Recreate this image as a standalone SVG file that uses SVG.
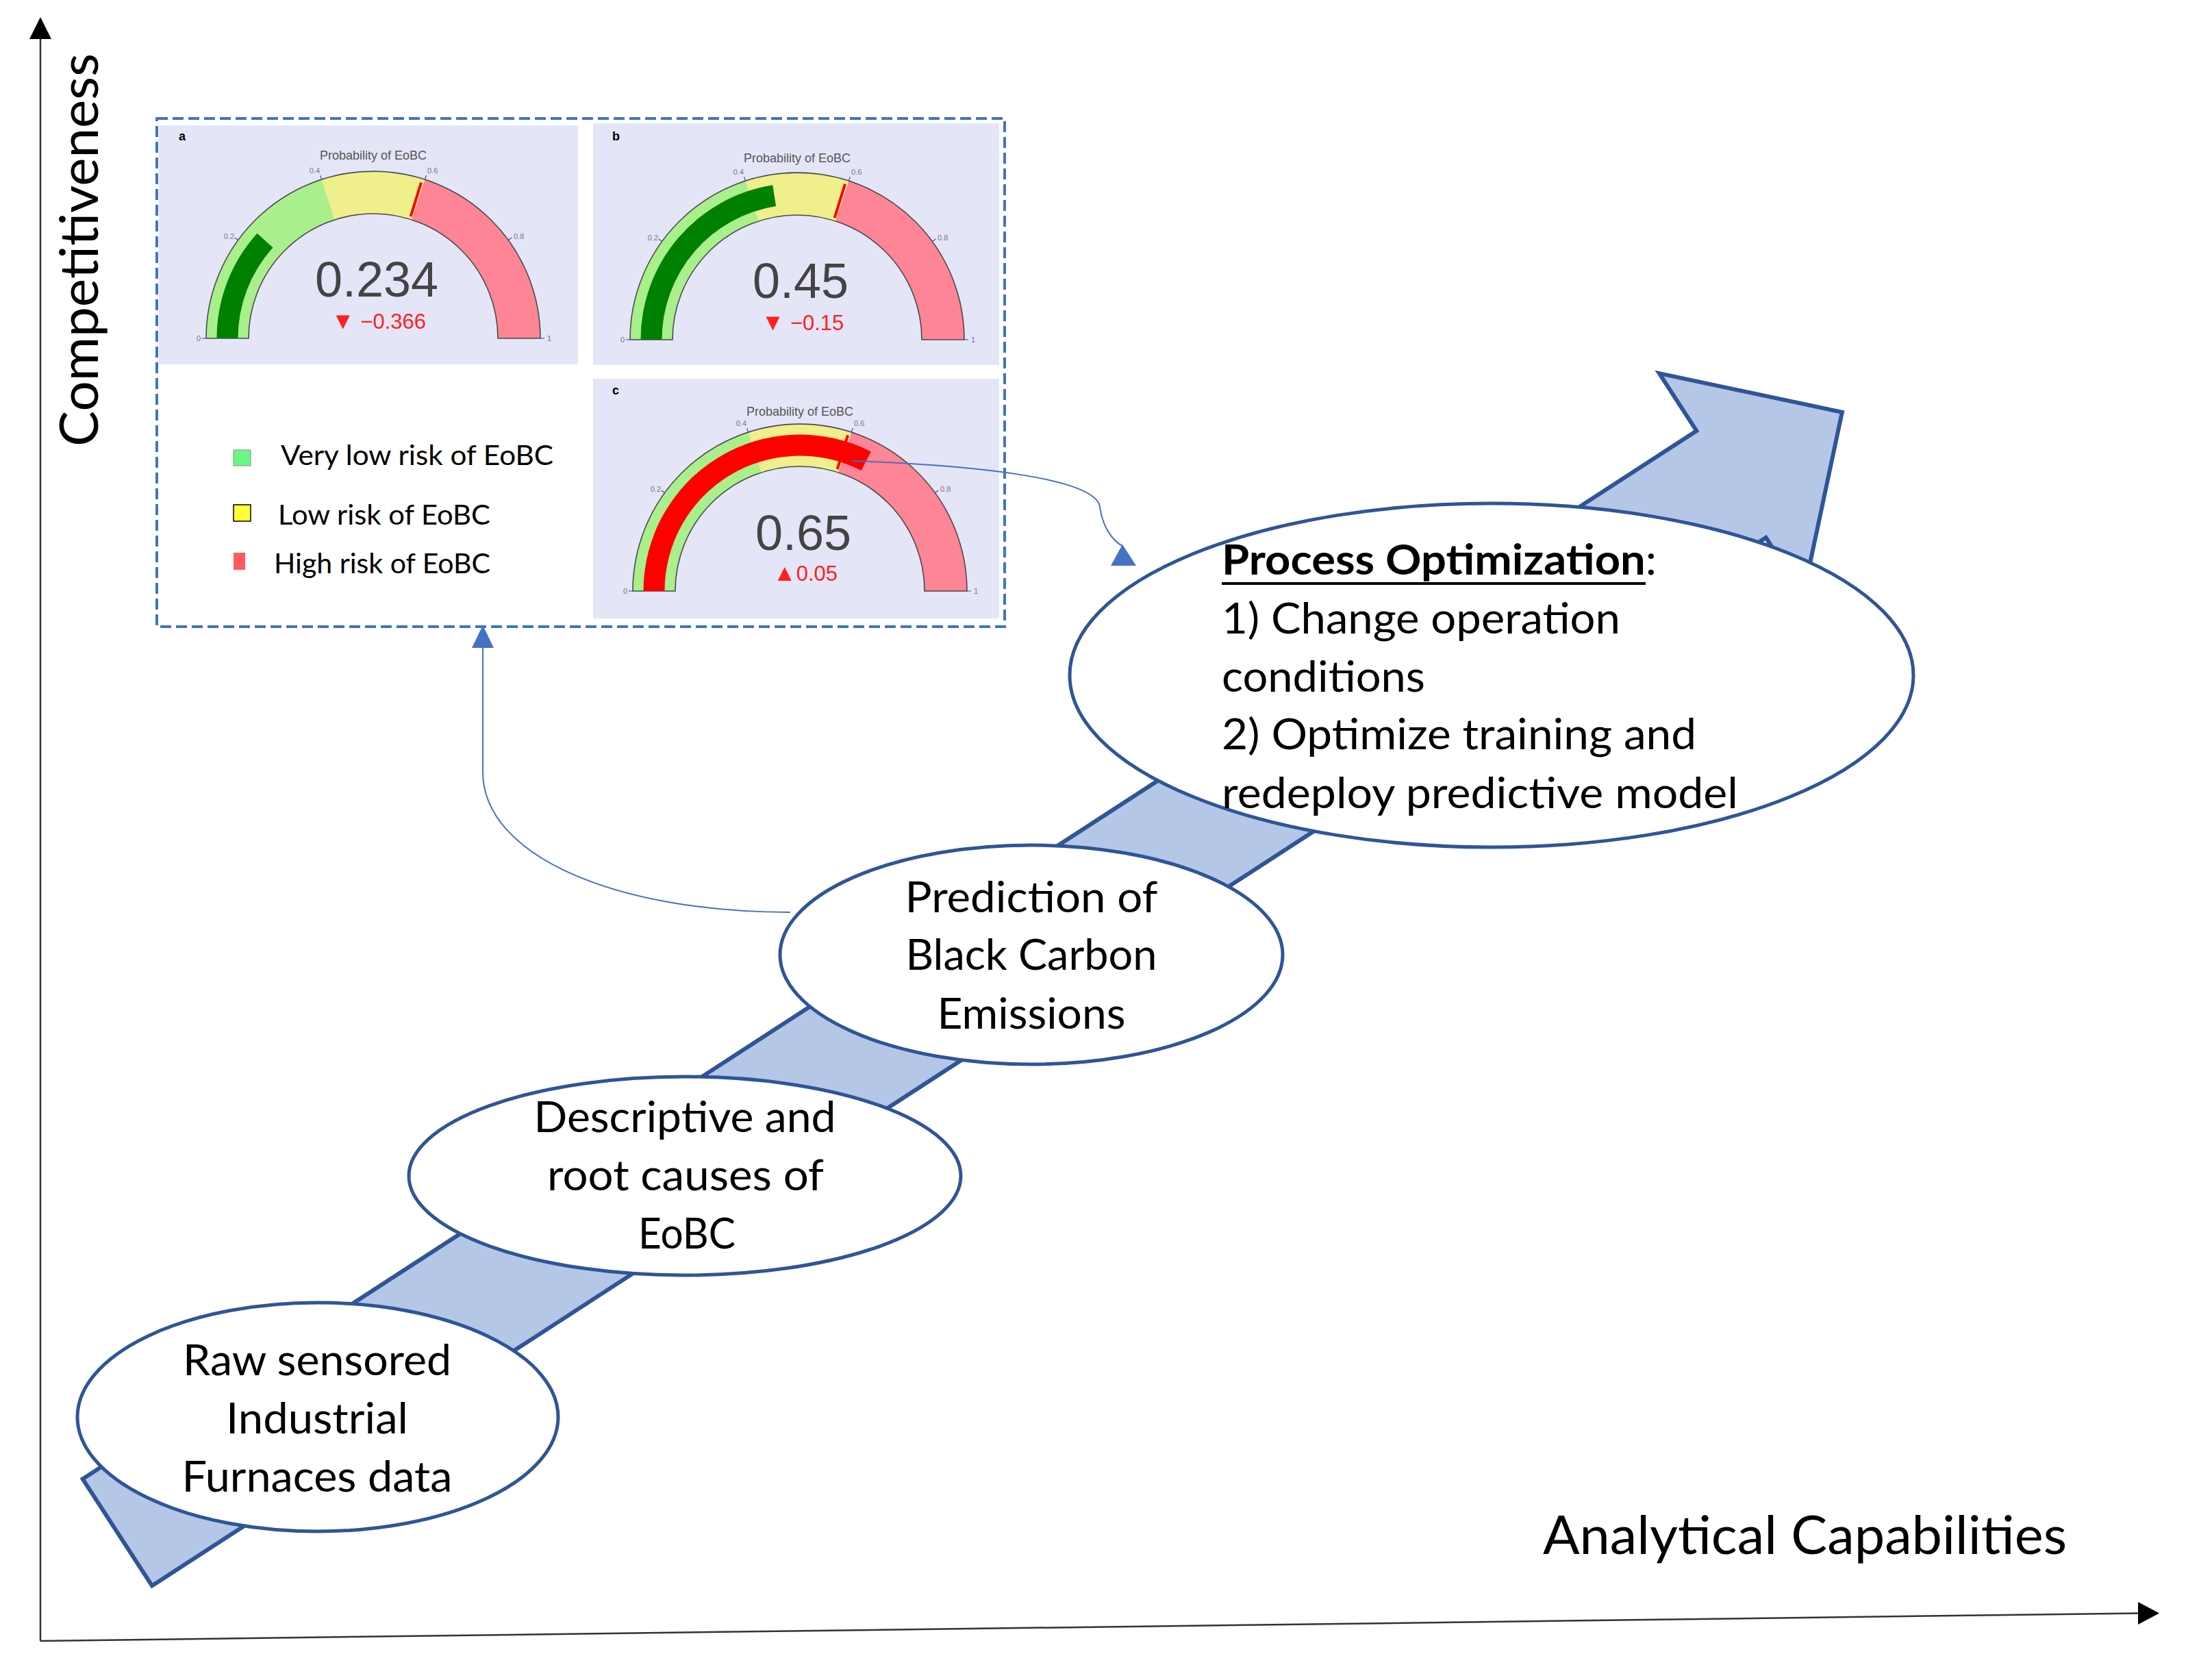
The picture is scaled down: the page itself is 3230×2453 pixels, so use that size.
<svg xmlns="http://www.w3.org/2000/svg" width="3230" height="2453" viewBox="0 0 3230 2453">
<style>
.node-ellipse{fill:#FFFFFF;stroke:#2F5597;stroke-width:5}
.node-text{font-family:Lato,"Liberation Sans",sans-serif;font-size:61px;fill:#000000}
.axis-line{stroke:#333333;stroke-width:2.5;fill:none}
.axis-head{fill:#000000}
.axis-text{font-family:Lato,"Liberation Sans",sans-serif;font-size:77px;fill:#000000}
.conn{fill:none;stroke:#4472C4;stroke-width:2}
.conn-head{fill:#4472C4}
.panel{fill:#E5E5F8}
.g-green{fill:#A9EF8C}
.g-yellow{fill:#EFEF8B}
.g-pink{fill:#FD8595}
.g-outline{fill:none;stroke:#4A4A4A;stroke-width:1.6}
.g-tick{fill:none;stroke:#4444AA;stroke-width:1.2}
.g-ticklabel{font-family:"Liberation Sans",Arial,sans-serif;font-size:11px;fill:#777777}
.g-title{font-family:"Liberation Sans",Arial,sans-serif;font-size:18px;fill:#555555;text-anchor:middle}
.g-value{font-family:"Liberation Sans",Arial,sans-serif;font-size:72px;fill:#444444;text-anchor:middle}
.g-delta{font-family:"Liberation Sans",Arial,sans-serif;font-size:31px;fill:#FF2020;text-anchor:middle}
.g-tri{font-size:34px}
.g-thresh{stroke:#FF0000;stroke-width:4}
.g-label{font-family:"Liberation Sans",Arial,sans-serif;font-size:18px;font-weight:bold;fill:#000000}
.legend-text{font-family:Lato,"Liberation Sans",sans-serif;font-size:41px;fill:#000000}
</style>
<rect x="0" y="0" width="3230" height="2453" fill="#FFFFFF"/>

<!-- axes -->
<g id="axes">
  <line class="axis-line" x1="59" y1="2396" x2="59" y2="54"/>
  <polygon class="axis-head" points="43,57 59,25 75,57"/>
  <line class="axis-line" x1="59" y1="2396" x2="3125" y2="2355.5"/>
  <polygon class="axis-head" points="3122,2339 3153,2355.5 3122,2372"/>
  <text class="axis-text" transform="translate(143,652) rotate(-90)" x="0" y="0" textLength="574" lengthAdjust="spacingAndGlyphs">Competitiveness</text>
  <text class="axis-text" x="2253" y="2269" textLength="765" lengthAdjust="spacingAndGlyphs">Analytical Capabilities</text>
</g>

<!-- big progression arrow -->
<g id="progress-arrow">
  <polygon transform="translate(2528,707) rotate(-33)" points="-2810,-93 0,-93 0,-193 193,0 0,193 0,93 -2810,93" fill="#B4C7E7" stroke="#2F5597" stroke-width="6" stroke-linejoin="miter"/>
</g>

<!-- nodes -->
<g id="node-raw-data">
  <ellipse class="node-ellipse" cx="464" cy="2069" rx="351" ry="167"/>
  <text class="node-text" x="463" y="2008" text-anchor="middle" textLength="392" lengthAdjust="spacingAndGlyphs">Raw sensored</text>
  <text class="node-text" x="463" y="2093" text-anchor="middle" textLength="266" lengthAdjust="spacingAndGlyphs">Industrial</text>
  <text class="node-text" x="463" y="2178" text-anchor="middle" textLength="395" lengthAdjust="spacingAndGlyphs">Furnaces data</text>
</g>

<g id="node-descriptive">
  <ellipse class="node-ellipse" cx="1000" cy="1717" rx="403" ry="145"/>
  <text class="node-text" x="1000" y="1653" text-anchor="middle" textLength="441" lengthAdjust="spacingAndGlyphs">Descriptive and</text>
  <text class="node-text" x="1001" y="1738" text-anchor="middle" textLength="404" lengthAdjust="spacingAndGlyphs">root causes of</text>
  <text class="node-text" x="1003" y="1823" text-anchor="middle" textLength="142" lengthAdjust="spacingAndGlyphs">EoBC</text>
</g>

<g id="node-prediction">
  <ellipse class="node-ellipse" cx="1506" cy="1394" rx="367" ry="160"/>
  <text class="node-text" x="1506" y="1332" text-anchor="middle" textLength="369" lengthAdjust="spacingAndGlyphs">Prediction of</text>
  <text class="node-text" x="1506" y="1416" text-anchor="middle" textLength="367" lengthAdjust="spacingAndGlyphs">Black Carbon</text>
  <text class="node-text" x="1506" y="1502" text-anchor="middle" textLength="275" lengthAdjust="spacingAndGlyphs">Emissions</text>
</g>

<g id="node-optimization">
  <ellipse class="node-ellipse" cx="2178" cy="986" rx="616" ry="251"/>
  <text class="node-text" x="1784" y="839" textLength="635" lengthAdjust="spacingAndGlyphs"><tspan font-weight="bold">Process Optimization</tspan>:</text>
  <line x1="1784" y1="852" x2="2403" y2="852" stroke="#000000" stroke-width="4"/>
  <text class="node-text" x="1784" y="925" textLength="582" lengthAdjust="spacingAndGlyphs">1) Change operation</text>
  <text class="node-text" x="1784" y="1010" textLength="297" lengthAdjust="spacingAndGlyphs">conditions</text>
  <text class="node-text" x="1784" y="1094" textLength="693" lengthAdjust="spacingAndGlyphs">2) Optimize training and</text>
  <text class="node-text" x="1784" y="1180" textLength="754" lengthAdjust="spacingAndGlyphs">redeploy predictive model</text>
</g>

<!-- gauge dashboard panel -->
<g id="gauge-panel">
  <rect x="229" y="173" width="1238" height="742" fill="#FFFFFF"/>
  <rect class="panel" x="232" y="183" width="612" height="349"/>
  <rect class="panel" x="866" y="180" width="593" height="353"/>
  <rect class="panel" x="866" y="553" width="593" height="350"/>

  <g id="gauge-a" transform="translate(545,494)">
    <path class="g-green" d="M-244,0 A244,244 0 0 1 -75.40,-232.06 L-56.24,-173.09 A182,182 0 0 0 -182,0 Z"/>
    <path class="g-yellow" d="M-75.40,-232.06 A244,244 0 0 1 75.40,-232.06 L56.24,-173.09 A182,182 0 0 0 -56.24,-173.09 Z"/>
    <path class="g-pink" d="M75.40,-232.06 A244,244 0 0 1 244,0 L182,0 A182,182 0 0 0 56.24,-173.09 Z"/>
    <path class="g-outline" d="M-244,0 A244,244 0 0 1 244,0 L182,0 A182,182 0 0 0 -182,0 Z"/>
    <path fill="#008000" d="M-228.5,0 A228.5,228.5 0 0 1 -169.48,-153.25 L-146.49,-132.46 A197.5,197.5 0 0 0 -197.5,0 Z"/>
    <line class="g-thresh" x1="54.7" y1="-177.8" x2="70.0" y2="-227.5"/>
    <path class="g-tick" d="M-244,0h-6M-197.4,-143.4l-4.9,-3.5M-75.4,-232.1l-1.9,-5.7M75.4,-232.1l1.9,-5.7M197.4,-143.4l4.9,-3.5M244,0h6"/>
    <text class="g-ticklabel" x="-252" y="4" text-anchor="end">0</text>
    <text class="g-ticklabel" x="-203" y="-145" text-anchor="end">0.2</text>
    <text class="g-ticklabel" x="-78" y="-241" text-anchor="end">0.4</text>
    <text class="g-ticklabel" x="79" y="-241">0.6</text>
    <text class="g-ticklabel" x="205" y="-145">0.8</text>
    <text class="g-ticklabel" x="254" y="4">1</text>
    <text class="g-title" x="0" y="-261">Probability of EoBC</text>
    <text class="g-value" x="5" y="-61">0.234</text>
    <text class="g-delta" x="8" y="-14"><tspan class="g-tri">▼</tspan> −0.366</text>
  </g>
  <text class="g-label" x="261" y="205">a</text>

  <g id="gauge-b" transform="translate(1164,496)">
    <path class="g-green" d="M-244,0 A244,244 0 0 1 -75.40,-232.06 L-56.24,-173.09 A182,182 0 0 0 -182,0 Z"/>
    <path class="g-yellow" d="M-75.40,-232.06 A244,244 0 0 1 75.40,-232.06 L56.24,-173.09 A182,182 0 0 0 -56.24,-173.09 Z"/>
    <path class="g-pink" d="M75.40,-232.06 A244,244 0 0 1 244,0 L182,0 A182,182 0 0 0 56.24,-173.09 Z"/>
    <path class="g-outline" d="M-244,0 A244,244 0 0 1 244,0 L182,0 A182,182 0 0 0 -182,0 Z"/>
    <path fill="#008000" d="M-228.5,0 A228.5,228.5 0 0 1 -35.74,-225.69 L-30.90,-195.07 A197.5,197.5 0 0 0 -197.5,0 Z"/>
    <line class="g-thresh" x1="54.7" y1="-177.8" x2="70.0" y2="-227.5"/>
    <path class="g-tick" d="M-244,0h-6M-197.4,-143.4l-4.9,-3.5M-75.4,-232.1l-1.9,-5.7M75.4,-232.1l1.9,-5.7M197.4,-143.4l4.9,-3.5M244,0h6"/>
    <text class="g-ticklabel" x="-252" y="4" text-anchor="end">0</text>
    <text class="g-ticklabel" x="-203" y="-145" text-anchor="end">0.2</text>
    <text class="g-ticklabel" x="-78" y="-241" text-anchor="end">0.4</text>
    <text class="g-ticklabel" x="79" y="-241">0.6</text>
    <text class="g-ticklabel" x="205" y="-145">0.8</text>
    <text class="g-ticklabel" x="254" y="4">1</text>
    <text class="g-title" x="0" y="-259">Probability of EoBC</text>
    <text class="g-value" x="5" y="-61">0.45</text>
    <text class="g-delta" x="8" y="-14"><tspan class="g-tri">▼</tspan> −0.15</text>
  </g>
  <text class="g-label" x="894" y="205">b</text>

  <g id="gauge-c" transform="translate(1168,863)">
    <path class="g-green" d="M-244,0 A244,244 0 0 1 -75.40,-232.06 L-56.24,-173.09 A182,182 0 0 0 -182,0 Z"/>
    <path class="g-yellow" d="M-75.40,-232.06 A244,244 0 0 1 75.40,-232.06 L56.24,-173.09 A182,182 0 0 0 -56.24,-173.09 Z"/>
    <path class="g-pink" d="M75.40,-232.06 A244,244 0 0 1 244,0 L182,0 A182,182 0 0 0 56.24,-173.09 Z"/>
    <path class="g-outline" d="M-244,0 A244,244 0 0 1 244,0 L182,0 A182,182 0 0 0 -182,0 Z"/>
    <line class="g-thresh" x1="54.7" y1="-177.8" x2="70.0" y2="-227.5"/>
    <path fill="#FF0000" d="M-228.5,0 A228.5,228.5 0 0 1 103.74,-203.60 L89.66,-175.97 A197.5,197.5 0 0 0 -197.5,0 Z"/>
    <path class="g-tick" d="M-244,0h-6M-197.4,-143.4l-4.9,-3.5M-75.4,-232.1l-1.9,-5.7M75.4,-232.1l1.9,-5.7M197.4,-143.4l4.9,-3.5M244,0h6"/>
    <text class="g-ticklabel" x="-252" y="4" text-anchor="end">0</text>
    <text class="g-ticklabel" x="-203" y="-145" text-anchor="end">0.2</text>
    <text class="g-ticklabel" x="-78" y="-241" text-anchor="end">0.4</text>
    <text class="g-ticklabel" x="79" y="-241">0.6</text>
    <text class="g-ticklabel" x="205" y="-145">0.8</text>
    <text class="g-ticklabel" x="254" y="4">1</text>
    <text class="g-title" x="0" y="-256">Probability of EoBC</text>
    <text class="g-value" x="5" y="-60">0.65</text>
    <text class="g-delta" x="8" y="-15"><tspan class="g-tri">▲</tspan>0.05</text>
  </g>
  <text class="g-label" x="894" y="576">c</text>

  <g id="legend">
    <rect x="341" y="657" width="25" height="23" fill="#69F786" stroke="#8FA08F" stroke-width="1.2"/>
    <text class="legend-text" x="410" y="679" textLength="398" lengthAdjust="spacingAndGlyphs">Very low risk of EoBC</text>
    <rect x="341" y="737" width="25" height="24" fill="#FFFF33" stroke="#000000" stroke-width="1.5"/>
    <text class="legend-text" x="406" y="766" textLength="310" lengthAdjust="spacingAndGlyphs">Low risk of EoBC</text>
    <rect x="341" y="807" width="17" height="25" fill="#FF5A60"/>
    <text class="legend-text" x="400" y="837" textLength="316" lengthAdjust="spacingAndGlyphs">High risk of EoBC</text>
  </g>

  <rect x="229" y="173" width="1238" height="742" fill="none" stroke="#4472C4" stroke-width="4" stroke-dasharray="16 7"/>
</g>

<!-- connectors -->
<g id="connectors">
  <path class="conn" d="M1154,1332 C900,1332 705,1250 705,1127 L705,944"/>
  <polygon class="conn-head" points="705,913 689,946 721,946"/>
  <path class="conn" d="M1245,673 C1440,680 1600,700 1606,740 C1610,770 1625,790 1639,797"/>
  <polygon class="conn-head" points="1639,795 1622,826 1659,826"/>
</g>
</svg>
